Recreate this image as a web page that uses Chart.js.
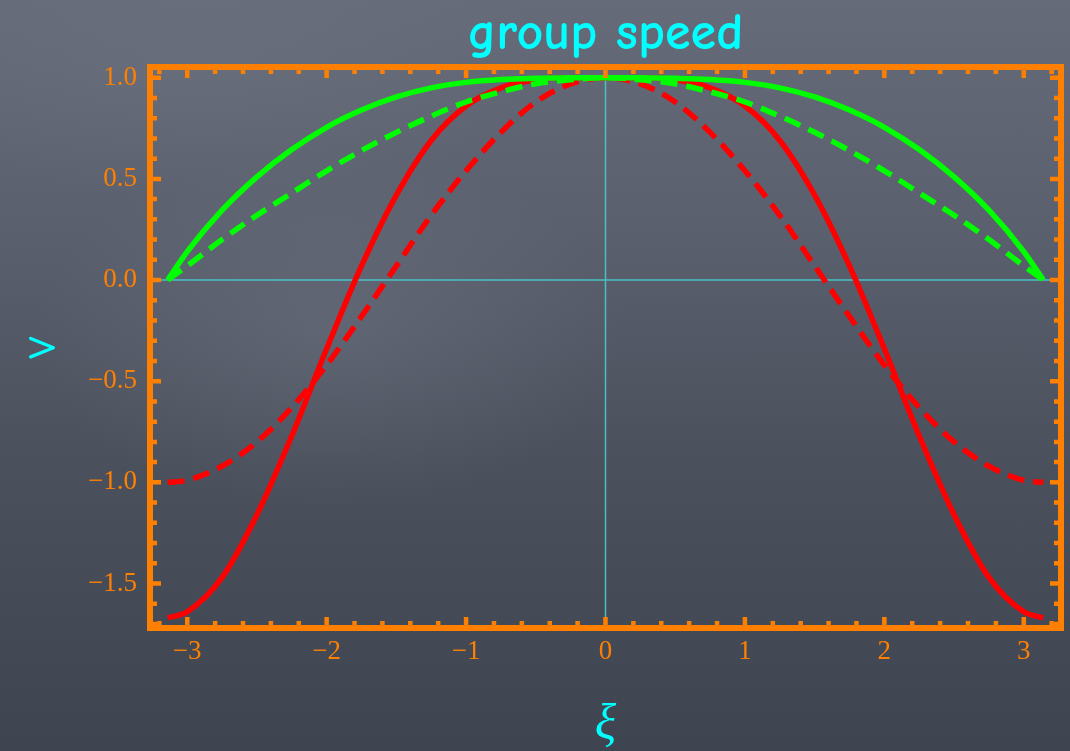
<!DOCTYPE html>
<html>
<head>
<meta charset="utf-8">
<title>group speed</title>
<script src="https://cdn.jsdelivr.net/npm/chart.js@4.4.1/dist/chart.umd.min.js"></script>
<style>
  html, body { margin: 0; padding: 0; width: 1070px; height: 751px; overflow: hidden; }
  body {
    background:
      radial-gradient(ellipse 420px 260px at 330px 330px, rgba(140,146,160,0.22), rgba(140,146,160,0) 70%),
      radial-gradient(ellipse 500px 200px at 200px 60px, rgba(120,125,138,0.25), rgba(120,125,138,0) 70%),
      linear-gradient(to bottom, #666b79 0%, #5b606e 30%, #4b505d 62%, #3f4451 100%);
  }
  #wrap { position: relative; width: 1070px; height: 751px; }
</style>
</head>
<body>
<div id="wrap"><canvas id="chart" width="1070" height="751"></canvas></div>
<script>
// wavenumber samples
const xi = [-3.14, -3, -2.75, -2.5, -2.25, -2, -1.75, -1.5, -1.25, -1, -0.75, -0.5, -0.25, 0,
            0.25, 0.5, 0.75, 1, 1.25, 1.5, 1.75, 2, 2.25, 2.5, 2.75, 3, 3.14];

// group speed of each scheme at those samples
const greenSolid  = [0.00, 0.14, 0.345, 0.51, 0.645, 0.755, 0.84, 0.905, 0.95, 0.977, 0.991, 0.997, 1.00, 1.00,
                     1.00, 0.997, 0.991, 0.977, 0.95, 0.905, 0.84, 0.755, 0.645, 0.51, 0.345, 0.14, 0.00];
const greenDashed = [0.00, 0.07, 0.20, 0.32, 0.43, 0.54, 0.64, 0.73, 0.81, 0.88, 0.93, 0.97, 0.99, 1.00,
                     0.99, 0.97, 0.93, 0.88, 0.81, 0.73, 0.64, 0.54, 0.43, 0.32, 0.20, 0.07, 0.00];
const redSolid    = [-1.67, -1.64, -1.47, -1.16, -0.77, -0.34, 0.07, 0.42, 0.69, 0.86, 0.95, 0.99, 1.00, 1.00,
                     1.00, 0.99, 0.95, 0.86, 0.69, 0.42, 0.07, -0.34, -0.77, -1.16, -1.47, -1.64, -1.67];
const redDashed   = [-1.00, -0.99, -0.92, -0.80, -0.63, -0.42, -0.18, 0.07, 0.32, 0.54, 0.73, 0.88, 0.97, 1.00,
                     0.97, 0.88, 0.73, 0.54, 0.32, 0.07, -0.18, -0.42, -0.63, -0.80, -0.92, -0.99, -1.00];

// axis ticks
const xTickValues = [-3, -2, -1, 0, 1, 2, 3];
const yTickValues = [-1.5, -1.0, -0.5, 0.0, 0.5, 1.0];

const ORANGE = '#ff8000';
const CYAN = '#00ffff';
const toPoints = ys => xi.map((x, i) => ({ x: x, y: ys[i] }));
const minus = s => s.replace('-', '\u2212');

// boxed frame with inward ticks on all four sides, plus the zero axes
const framePlugin = {
  id: 'frame',
  beforeDatasetsDraw(chart) {
    const { ctx, chartArea: a, scales: { x, y } } = chart;
    ctx.save();
    ctx.strokeStyle = 'rgba(70,205,205,0.9)';
    ctx.lineWidth = 1.5;
    const x0 = x.getPixelForValue(0), y0 = y.getPixelForValue(0);
    ctx.beginPath();
    ctx.moveTo(x0, a.top); ctx.lineTo(x0, a.bottom);
    ctx.moveTo(a.left, y0); ctx.lineTo(a.right, y0);
    ctx.stroke();
    ctx.restore();
  },
  afterDatasetsDraw(chart) {
    const { ctx, chartArea: a, scales: { x, y } } = chart;
    const fw = 6, major = 8, minor = 4;
    ctx.save();
    ctx.strokeStyle = ORANGE;
    ctx.lineWidth = fw;
    ctx.strokeRect(a.left, a.top, a.right - a.left, a.bottom - a.top);
    ctx.lineWidth = 4.5;
    ctx.lineCap = 'butt';
    ctx.beginPath();
    for (let k = -16; k <= 16; k++) {
      const v = k / 5;
      if (v < x.min || v > x.max) continue;
      const px = x.getPixelForValue(v);
      const len = (k % 5 === 0 ? major : minor) + fw / 2;
      ctx.moveTo(px, a.top); ctx.lineTo(px, a.top + len);
      ctx.moveTo(px, a.bottom); ctx.lineTo(px, a.bottom - len);
    }
    for (let k = -17; k <= 10; k++) {
      const v = k / 10;
      if (v < y.min || v > y.max) continue;
      const py = y.getPixelForValue(v);
      const len = (k % 5 === 0 ? major : minor) + fw / 2;
      ctx.moveTo(a.left, py); ctx.lineTo(a.left + len, py);
      ctx.moveTo(a.right, py); ctx.lineTo(a.right - len, py);
    }
    ctx.stroke();
    ctx.restore();
  }
};

const lineStyle = (data, color, dashed) => ({
  data: toPoints(data),
  borderColor: color,
  borderWidth: 5.5,
  borderDash: dashed ? [17, 9] : [],
  borderCapStyle: 'butt',
  pointRadius: 0,
  fill: false,
  cubicInterpolationMode: 'monotone',
  clip: false
});

const tickFont = { family: '"Liberation Serif", "Times New Roman", serif', size: 27 };

new Chart(document.getElementById('chart'), {
  type: 'line',
  data: {
    datasets: [
      lineStyle(greenSolid, '#00ff00', false),
      lineStyle(greenDashed, '#00ff00', true),
      lineStyle(redSolid, '#ff0000', false),
      lineStyle(redDashed, '#ff0000', true)
    ]
  },
  options: {
    responsive: false,
    animation: false,
    layout: { padding: { top: 0, right: 9, left: 0, bottom: 0 } },
    plugins: {
      legend: { display: false },
      tooltip: { enabled: false },
      title: {
        display: true,
        fullSize: false,
        text: 'group speed',
        color: CYAN,
        font: { family: '"Comic Sans MS", "Comic Neue", Lato, sans-serif', size: 52, lineHeight: 1 },
        padding: { top: 8, bottom: 7 }
      }
    },
    scales: {
      x: {
        type: 'linear',
        min: -3.267,
        max: 3.267,
        afterBuildTicks: s => { s.ticks = xTickValues.map(v => ({ value: v })); },
        afterFit: s => { s.height = 123; },
        grid: { display: false, drawTicks: false },
        border: { display: false },
        ticks: {
          color: ORANGE,
          padding: 8,
          font: tickFont,
          callback: v => minus(String(v))
        },
        title: {
          display: true,
          text: '\u03be',
          color: CYAN,
          font: { family: '"Liberation Serif", "Times New Roman", serif', size: 50, style: 'italic', lineHeight: 1 },
          padding: { top: 0, bottom: 0 }
        }
      },
      y: {
        type: 'linear',
        min: -1.72,
        max: 1.053,
        afterBuildTicks: s => { s.ticks = yTickValues.map(v => ({ value: v })); },
        afterFit: s => { s.width = 150; },
        grid: { display: false, drawTicks: false },
        border: { display: false },
        ticks: {
          color: ORANGE,
          padding: 13,
          font: tickFont,
          callback: v => minus(v.toFixed(1))
        },
        title: {
          display: true,
          text: 'v',
          color: CYAN,
          font: { family: '"Comic Sans MS", "Comic Neue", Lato, sans-serif', size: 52, lineHeight: 1 },
          padding: { top: 14, bottom: 0 }
        }
      }
    }
  },
  plugins: [framePlugin]
});
</script>
</body>
</html>
